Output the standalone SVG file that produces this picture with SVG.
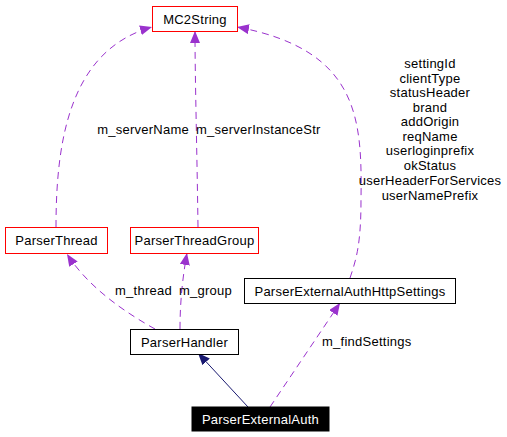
<svg xmlns="http://www.w3.org/2000/svg" width="507" height="437" viewBox="0 0 507 437">
<style>
text{font-family:"Liberation Sans",Arial,sans-serif;font-size:13px;letter-spacing:0.25px;fill:#000}
.box{fill:#fff;stroke:#000;stroke-width:1}
.red{fill:#fff;stroke:#ff0000;stroke-width:1}
.dark{fill:#000;stroke:#000}
.lbl{text-anchor:middle}
.use{fill:none;stroke:#9a32cd;stroke-width:1;stroke-dasharray:7,5}
.inh{fill:none;stroke:#191970;stroke-width:1}
</style>
<defs>
<marker id="ap" viewBox="0 0 12 10" refX="12" refY="5" markerWidth="12" markerHeight="10" markerUnits="userSpaceOnUse" orient="auto"><path d="M0,0L12,5L0,10z" fill="#9a32cd"/></marker>
<marker id="an" viewBox="0 0 12 10" refX="12" refY="5" markerWidth="12" markerHeight="10" markerUnits="userSpaceOnUse" orient="auto"><path d="M0,0L12,5L0,10z" fill="#191970"/></marker>
</defs>
<rect width="507" height="437" fill="#fff"/>
<g id="connectors">
<path class="use" d="M56,227 C56,140 70,50 152,27" marker-end="url(#ap)"/>
<path class="use" d="M198,227 C197,150 195,80 195,31" marker-end="url(#ap)"/>
<path class="use" d="M350,278 C356,260 361,245 361,200 C362,120 360,50 237,27" marker-end="url(#ap)"/>
<path class="use" d="M155,329 C130,315 90,290 67,254" marker-end="url(#ap)"/>
<path class="use" d="M180,329 C180,300 183,275 187,253" marker-end="url(#ap)"/>
<path class="use" d="M270,407 L340,303" marker-end="url(#ap)"/>
<path class="inh" d="M248,407 L198,353" marker-end="url(#an)"/>
<text x="189" y="134" text-anchor="end">m_serverName</text>
<text x="196" y="134">m_serverInstanceStr</text>
<text x="115" y="295">m_thread</text>
<text x="179" y="295">m_group</text>
<text x="322" y="346">m_findSettings</text>
<g class="lbl">
<text x="430" y="68">settingId</text>
<text x="430" y="83">clientType</text>
<text x="430" y="97">statusHeader</text>
<text x="430" y="112">brand</text>
<text x="430" y="126">addOrigin</text>
<text x="430" y="141">reqName</text>
<text x="430" y="155">userloginprefix</text>
<text x="430" y="170">okStatus</text>
<text x="430" y="185">userHeaderForServices</text>
<text x="430" y="200">userNamePrefix</text>
</g>
</g>
<g id="MC2String"><rect class="red" x="152.5" y="6.5" width="85" height="25"/><text class="lbl" x="195" y="23.5">MC2String</text></g>
<g id="ParserThread"><rect class="red" x="5.5" y="227.5" width="102" height="26"/><text class="lbl" x="56.5" y="245">ParserThread</text></g>
<g id="ParserThreadGroup"><rect class="red" x="130.5" y="227.5" width="128" height="26"/><text class="lbl" x="194.5" y="245">ParserThreadGroup</text></g>
<g id="ParserExternalAuthHttpSettings"><rect class="box" x="244.5" y="278.5" width="211" height="25"/><text class="lbl" x="350" y="295.5">ParserExternalAuthHttpSettings</text></g>
<g id="ParserHandler"><rect class="box" x="130.5" y="329.5" width="108" height="25"/><text class="lbl" x="184.5" y="346.5">ParserHandler</text></g>
<g id="ParserExternalAuth"><rect class="dark" x="192" y="407" width="137" height="24"/><text class="lbl" x="260.5" y="424" style="fill:#fff">ParserExternalAuth</text></g>
</svg>
